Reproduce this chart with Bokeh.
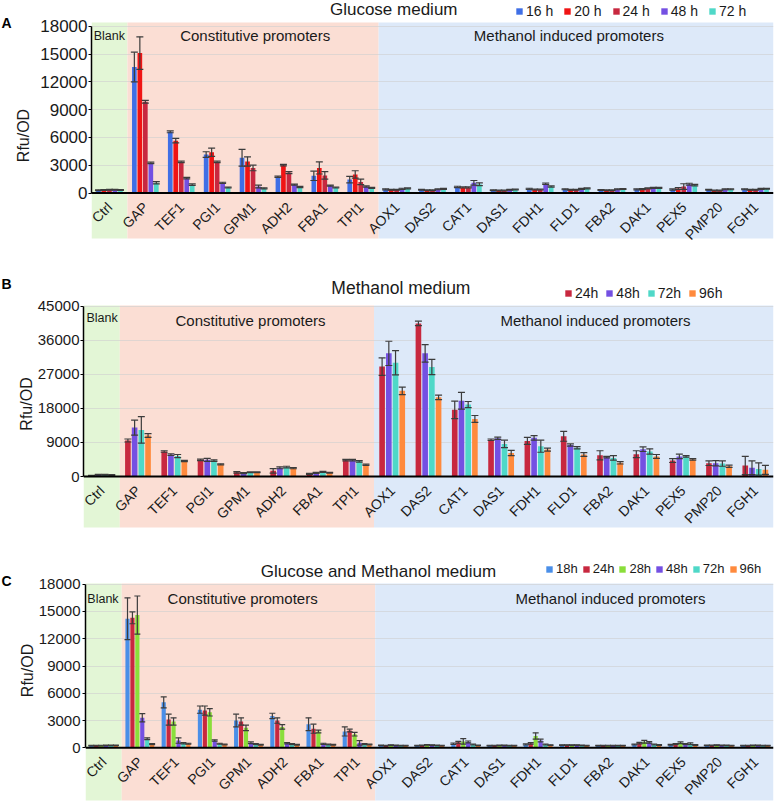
import math
from bokeh.plotting import figure
from bokeh.models import (ColumnDataSource, Whisker, TeeHead, Legend, LegendItem,
                          FixedTicker, Span, Range1d, NumeralTickFormatter)
from bokeh.transform import dodge
from bokeh.layouts import column, row
from bokeh.embed import file_html
from bokeh.resources import INLINE
from bokeh.core.properties import value

FONT = "Liberation Sans"

categories = ["Ctrl", "GAP", "TEF1", "PGI1", "GPM1", "ADH2", "FBA1", "TPI1", "AOX1", "DAS2",
              "CAT1", "DAS1", "FDH1", "FLD1", "FBA2", "DAK1", "PEX5", "PMP20", "FGH1"]
region_names = ["Blank", "Constitutive promoters", "Methanol induced promoters"]
region_first = [0, 1, 8]
region_last = [0, 7, 18]
region_colors = ["#e3f6d6", "#fbded4", "#dde9f9"]

# ---------------- Panel A: Glucose medium ----------------
glc_title = "Glucose medium"
glc_labels = ["16 h", "20 h", "24 h", "48 h", "72 h"]
glc_colors = ["#3f6fe6", "#f01414", "#c8283f", "#7450e2", "#4fd8c8"]
glc_ticks = [0, 3000, 6000, 9000, 12000, 15000, 18000]
glc_16h = [300, 13600, 6600, 4150, 3800, 1750, 1850, 1450, 400, 350, 650, 300, 450, 400, 330, 400, 380, 350, 400]
glc_16h_err = [50, 1600, 100, 300, 900, 80, 500, 350, 60, 50, 80, 40, 60, 50, 40, 60, 60, 50, 50]
glc_20h = [320, 15100, 5650, 4400, 3400, 3000, 2700, 2000, 350, 300, 600, 280, 380, 350, 300, 420, 480, 280, 350]
glc_20h_err = [40, 1750, 250, 450, 500, 80, 650, 400, 50, 40, 60, 40, 50, 40, 40, 50, 100, 40, 50]
glc_24h = [350, 9850, 3350, 3350, 2700, 2200, 1900, 1200, 350, 300, 600, 280, 380, 350, 300, 500, 700, 280, 350]
glc_24h_err = [40, 150, 80, 80, 300, 100, 400, 300, 50, 40, 60, 40, 50, 40, 40, 50, 300, 40, 50]
glc_48h = [350, 3250, 1600, 1100, 700, 900, 800, 700, 450, 400, 1100, 350, 1000, 450, 400, 550, 950, 400, 450]
glc_48h_err = [40, 80, 80, 60, 150, 60, 60, 60, 60, 50, 250, 40, 80, 50, 50, 60, 100, 50, 50]
glc_72h = [330, 1100, 900, 600, 500, 650, 600, 550, 500, 450, 950, 380, 700, 500, 430, 550, 850, 400, 450]
glc_72h_err = [40, 120, 80, 50, 60, 60, 50, 50, 50, 50, 150, 40, 60, 50, 50, 50, 80, 50, 40]

# ---------------- Panel B: Methanol medium ----------------
met_title = "Methanol medium"
met_labels = ["24h", "48h", "72h", "96h"]
met_colors = ["#c8283f", "#7450e2", "#4fd8c8", "#ff8a3d"]
met_ticks = [0, 9000, 18000, 27000, 36000, 45000]
met_24h = [200, 9500, 6600, 4400, 1100, 1500, 700, 4300, 29000, 40400, 17600, 9700, 9400, 10600, 5600, 5900, 4200, 3500, 2900]
met_24h_err = [100, 400, 200, 200, 200, 600, 150, 200, 2300, 600, 2300, 200, 900, 1300, 1200, 900, 500, 600, 2400]
met_48h = [450, 12900, 5800, 4400, 900, 2300, 950, 4300, 32500, 32500, 20000, 10100, 10200, 8300, 5100, 7200, 5300, 3500, 2300]
met_48h_err = [100, 2000, 200, 400, 150, 250, 150, 200, 3200, 2300, 2200, 300, 600, 300, 200, 600, 600, 700, 1800]
met_72h = [450, 12300, 5400, 4200, 1100, 2500, 1200, 4000, 30000, 28900, 19000, 8600, 8000, 7600, 4900, 6600, 5300, 3400, 2000]
met_72h_err = [100, 3500, 400, 200, 100, 200, 150, 200, 3200, 2000, 800, 1000, 1600, 300, 600, 700, 200, 700, 1600]
met_96h = [400, 10800, 4100, 3200, 1100, 2200, 1000, 3100, 22600, 20900, 15200, 6200, 7100, 5800, 3600, 5300, 4500, 2700, 1750]
met_96h_err = [80, 500, 150, 150, 100, 150, 100, 150, 1000, 600, 900, 700, 400, 500, 300, 500, 200, 300, 1200]

# ---------------- Panel C: Glucose and Methanol medium ----------------
gm_title = "Glucose and Methanol medium"
gm_labels = ["18h", "24h", "28h", "48h", "72h", "96h"]
gm_colors = ["#4a8fe8", "#c8283f", "#8ade3a", "#7450e2", "#4fd8c8", "#ff8a3d"]
gm_ticks = [0, 3000, 6000, 9000, 12000, 15000, 18000]
gm_18h = [250, 14200, 5000, 4200, 3000, 3500, 2600, 1800, 280, 250, 450, 250, 370, 300, 230, 370, 330, 280, 250]
gm_18h_err = [30, 2300, 600, 400, 700, 300, 700, 500, 30, 30, 80, 30, 60, 30, 30, 50, 50, 30, 30]
gm_24h = [250, 14300, 3100, 4100, 2900, 3000, 2100, 1900, 250, 280, 600, 250, 480, 300, 230, 510, 400, 280, 250]
gm_24h_err = [30, 650, 600, 500, 400, 300, 500, 150, 30, 30, 100, 30, 80, 30, 30, 80, 60, 30, 30]
gm_28h = [250, 14600, 2900, 3900, 2200, 2300, 1800, 1500, 300, 320, 700, 280, 1300, 300, 250, 660, 550, 300, 280]
gm_28h_err = [30, 2100, 400, 400, 300, 250, 150, 200, 30, 40, 300, 30, 350, 30, 30, 150, 100, 30, 30]
gm_48h = [280, 3300, 800, 800, 550, 500, 440, 550, 280, 300, 650, 280, 800, 300, 250, 590, 400, 280, 280]
gm_48h_err = [30, 450, 300, 80, 100, 60, 60, 250, 30, 30, 100, 30, 150, 30, 30, 80, 60, 30, 30]
gm_72h = [280, 1000, 500, 450, 400, 400, 370, 400, 250, 280, 370, 250, 370, 280, 230, 370, 450, 280, 250]
gm_72h_err = [30, 100, 60, 50, 50, 50, 40, 50, 30, 30, 50, 30, 50, 30, 30, 50, 100, 30, 30]
gm_96h = [280, 400, 450, 370, 330, 330, 330, 370, 250, 250, 280, 250, 300, 250, 230, 300, 300, 250, 250]
gm_96h_err = [30, 60, 50, 40, 40, 40, 40, 40, 30, 30, 30, 30, 30, 30, 30, 40, 40, 30, 30]

TOTAL_W = 776
LETTER_W = 12


def make_letter(letter, g):
    H = g["h"]
    lf = figure(width=LETTER_W, height=H, x_range=Range1d(0, LETTER_W), y_range=Range1d(0, H),
                output_backend="svg", toolbar_location=None, x_axis_location=None,
                y_axis_location=None, min_border=0)
    lf.outline_line_color = None
    lf.xgrid.visible = False
    lf.ygrid.visible = False
    lf.text(x=[1], y=[H - g["letter_y"]], text=[letter], text_align="left",
            text_baseline="middle", text_font=value(FONT), text_font_style="bold",
            text_font_size="14px", text_color="black")
    return lf


def make_panel(title, labels, series, errors, colors, ticks, g):
    H = g["h"]
    ymax = ticks[-1]
    upp = ymax / (g["zero"] - g["top_tick"])

    def yd(py):
        return (g["zero"] - py) * upp

    ncat = len(categories)
    p = figure(width=TOTAL_W - LETTER_W, height=H, x_range=Range1d(-0.5, ncat - 0.5),
               y_range=Range1d(yd(H), yd(0)), output_backend="svg", toolbar_location=None,
               x_axis_location=None, min_border_left=g["left"] - LETTER_W, min_border_right=3,
               min_border_top=0, min_border_bottom=0)
    p.outline_line_color = None
    p.background_fill_color = "white"

    # region bands
    bsrc = ColumnDataSource(dict(left=[f - 0.5 for f in region_first],
                                 right=[l + 0.5 for l in region_last],
                                 color=region_colors))
    p.quad(left="left", right="right", bottom=yd(g["band_bottom"]), top=yd(g["band_top"]),
           fill_color="color", line_color=None, source=bsrc, level="image")

    # grid and axis
    p.xgrid.visible = False
    p.ygrid.ticker = FixedTicker(ticks=ticks[1:])
    p.ygrid.grid_line_color = "#cfcfcf"
    p.ygrid.grid_line_alpha = 0.6
    ax = p.yaxis[0]
    ax.ticker = FixedTicker(ticks=ticks)
    ax.formatter = NumeralTickFormatter(format="0")
    ax.bounds = (0, ymax)
    ax.axis_line_color = "black"
    ax.axis_line_width = 1.5
    ax.major_tick_line_color = "black"
    ax.major_tick_out = 3
    ax.major_tick_in = 0
    ax.minor_tick_line_color = None
    ax.major_label_standoff = g["tick_so"]
    ax.major_label_text_font = FONT
    ax.major_label_text_font_size = g["tick_fs"]
    ax.major_label_text_color = "#1a1a1a"
    ax.axis_label = "Rfu/OD"
    ax.axis_label_text_font = FONT
    ax.axis_label_text_font_size = "16px"
    ax.axis_label_text_font_style = "normal"
    ax.axis_label_text_color = "#1a1a1a"
    ax.axis_label_standoff = g["lab_so"]

    # bars + error bars
    n = len(series)
    data = dict(x=list(range(ncat)))
    for k in range(n):
        data[f"s{k}"] = series[k]
        data[f"u{k}"] = [v + e for v, e in zip(series[k], errors[k])]
        data[f"l{k}"] = [v - e for v, e in zip(series[k], errors[k])]
    src = ColumnDataSource(data)
    items = []
    for k in range(n):
        off = (k - (n - 1) / 2) * g["pitch"]
        r = p.vbar(x=dodge("x", off), top=f"s{k}", width=g["bw"], source=src,
                   fill_color=colors[k], line_color=None)
        items.append(LegendItem(label=labels[k], renderers=[r]))
        w = Whisker(base=dodge("x", off), upper=f"u{k}", lower=f"l{k}", source=src,
                    level="annotation", line_color="#3c3c3c", line_width=1.2,
                    upper_head=TeeHead(size=g["cap"], line_color="#3c3c3c", line_width=1.2),
                    lower_head=TeeHead(size=g["cap"], line_color="#3c3c3c", line_width=1.2))
        p.add_layout(w)

    p.add_layout(Span(location=0, dimension="width", line_color="black", line_width=2))

    # category labels (rotated)
    lsrc = ColumnDataSource(dict(x=list(range(ncat)), cat=categories))
    p.text(x=dodge("x", g["lab_dx"]), y=yd(g["zero"] + g["lab_dy"]), text="cat", source=lsrc,
           angle=math.pi / 4, text_align="right", text_baseline="top",
           text_font=value(FONT), text_font_size="14px", text_color="#1a1a1a")

    # region labels
    p.text(x=[g["reg_x"][0]], y=[yd(g["blank_y"])], text=[region_names[0]],
           text_align="left", text_baseline="middle", text_font=value(FONT),
           text_font_size="12.5px", text_color="#1a1a1a")
    p.text(x=g["reg_x"][1:], y=[yd(g["reg_y"])] * 2, text=region_names[1:],
           text_align="center", text_baseline="middle", text_font=value(FONT),
           text_font_size="15px", text_color="#1a1a1a")

    # title
    p.text(x=[g["title_x"]], y=[yd(g["title_y"])], text=[title], text_align="center",
           text_baseline="middle", text_font=value(FONT), text_font_size=g["title_fs"],
           text_color="#1a1a1a")

    # legend
    leg_h = 16
    legend = Legend(items=items, orientation="horizontal",
                    location=(g["leg_x"], H - (g["leg_y"] + leg_h / 2)),
                    glyph_width=8, glyph_height=8, label_height=leg_h, label_standoff=3,
                    spacing=g["leg_sp"], padding=0, margin=0, border_line_color=None,
                    background_fill_alpha=0, label_text_font=FONT,
                    label_text_font_size=g["leg_fs"], label_text_color="#1a1a1a")
    p.add_layout(legend)
    return p


geomA = dict(h=270, left=90, zero=192.5, top_tick=25.7, band_top=22, band_bottom=238,
             tick_fs="17px", tick_so=1, lab_so=5, pitch=0.153, bw=0.13, cap=7,
             lab_dx=-0.15, lab_dy=6,
             reg_x=[-0.44, 4.06, 12.8], blank_y=35, reg_y=35, title_x=7.92, title_y=9,
             title_fs="17px", leg_x=424, leg_y=10.5, leg_sp=10, leg_fs="14px", letter_y=22.5)
geomB = dict(h=267, left=83, zero=206, top_tick=35.5, band_top=35, band_bottom=257,
             tick_fs="15px", tick_so=1, lab_so=0, pitch=0.185, bw=0.155, cap=7,
             lab_dx=-0.15, lab_dy=6,
             reg_x=[-0.42, 4.1, 13.6], blank_y=47, reg_y=50, title_x=8.24, title_y=17.5,
             title_fs="17.5px", leg_x=481, leg_y=23, leg_sp=7, leg_fs="14px", letter_y=13)
geomC = dict(h=266, left=85, zero=210.3, top_tick=46.7, band_top=46, band_bottom=263,
             tick_fs="15px", tick_so=2, lab_so=0, pitch=0.136, bw=0.115, cap=6,
             lab_dx=-0.15, lab_dy=6,
             reg_x=[-0.45, 3.84, 14.0], blank_y=61, reg_y=61, title_x=7.59, title_y=34,
             title_fs="17px", leg_x=460, leg_y=31.5, leg_sp=4, leg_fs="13px", letter_y=43)

pA = make_panel(glc_title, glc_labels,
                [glc_16h, glc_20h, glc_24h, glc_48h, glc_72h],
                [glc_16h_err, glc_20h_err, glc_24h_err, glc_48h_err, glc_72h_err],
                glc_colors, glc_ticks, geomA)
pB = make_panel(met_title, met_labels,
                [met_24h, met_48h, met_72h, met_96h],
                [met_24h_err, met_48h_err, met_72h_err, met_96h_err],
                met_colors, met_ticks, geomB)
pC = make_panel(gm_title, gm_labels,
                [gm_18h, gm_24h, gm_28h, gm_48h, gm_72h, gm_96h],
                [gm_18h_err, gm_24h_err, gm_28h_err, gm_48h_err, gm_72h_err, gm_96h_err],
                gm_colors, gm_ticks, geomC)

layout = column(row(make_letter("A", geomA), pA, spacing=0),
                row(make_letter("B", geomB), pB, spacing=0),
                row(make_letter("C", geomC), pC, spacing=0), spacing=0)
open("out.html", "w").write(file_html(layout, INLINE))
